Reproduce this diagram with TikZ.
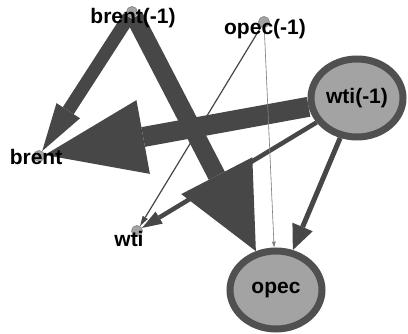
\documentclass[tikz,border=0pt]{standalone}
\usepackage{fontspec}
\setmainfont{Liberation Sans}
\usetikzlibrary{shapes.geometric,arrows.meta,backgrounds}
\definecolor{edgegray}{HTML}{474747}
\definecolor{rimgray}{HTML}{505050}
\definecolor{nodegray}{HTML}{A3A3A3}
\definecolor{dotrim}{HTML}{8C8C8C}
\tikzset{
	bignode/.style={ellipse, draw=rimgray, fill=nodegray, line width=7pt, minimum width=92pt, minimum height=78pt, inner sep=0pt, font=\fontsize{21}{25}\selectfont\bfseries},
	dotnode/.style={circle, draw=dotrim, fill=nodegray, line width=0.8pt, minimum size=11pt, inner sep=0pt},
	lbl/.style={inner sep=0pt, text=black, font=\fontsize{21}{25}\selectfont\bfseries},
	link/.style={draw=edgegray, fill=edgegray, line cap=butt}
}

\begin{document}
\begin{tikzpicture}[x=1pt, y=-1pt]
	\useasboundingbox (0, 0) rectangle (408, 334);
	\node[dotnode] (brent1) at (132, 12) {};
	\node[dotnode] (opec1) at (264, 22) {};
	\node[dotnode] (brent) at (39, 156) {};
	\node[dotnode] (wti) at (137, 231) {};
	\node[bignode] (wti1) at (357, 98) {wti(-1)};
	\node[bignode] (opec) at (276, 290) {opec};
	\node[lbl] (brent1lbl) at (133, 18) {brent(-1)};
	\node[lbl] (opec1lbl) at (265, 29) {opec(-1)};
	\node[lbl] (brentlbl) at (36, 157) {brent};
	\node[lbl] (wtilbl) at (129, 239) {wti};
	\begin{scope}[on background layer]
		\draw[link, line width=13pt, -{Triangle[length=48pt, width=28pt, line width=0pt]}] (brent1) -- (brent);
		\draw[link, line width=18pt, -{Triangle[length=85pt, width=80pt, line width=0pt]}] (brent1) -- (opec);
		\draw[link, line width=20pt, -{Triangle[length=100pt, width=75pt, line width=0pt]}] (wti1) -- (brent);
		\draw[link, line width=4.5pt, -{Triangle[length=20pt, width=14pt, line width=0pt]}] (wti1) -- (wti);
		\draw[link, line width=5pt, -{Triangle[length=25pt, width=22pt, line width=0pt]}] (wti1) -- (opec);
		\draw[link, line width=1.2pt, -{Triangle[length=10pt, width=6pt, line width=0pt]}] (opec1) -- (wti);
		\draw[link, draw=gray, fill=gray, line width=0.6pt, -{Triangle[length=6pt, width=4pt, line width=0pt]}] (opec1) -- (opec);
	\end{scope}
\end{tikzpicture}
\end{document}
